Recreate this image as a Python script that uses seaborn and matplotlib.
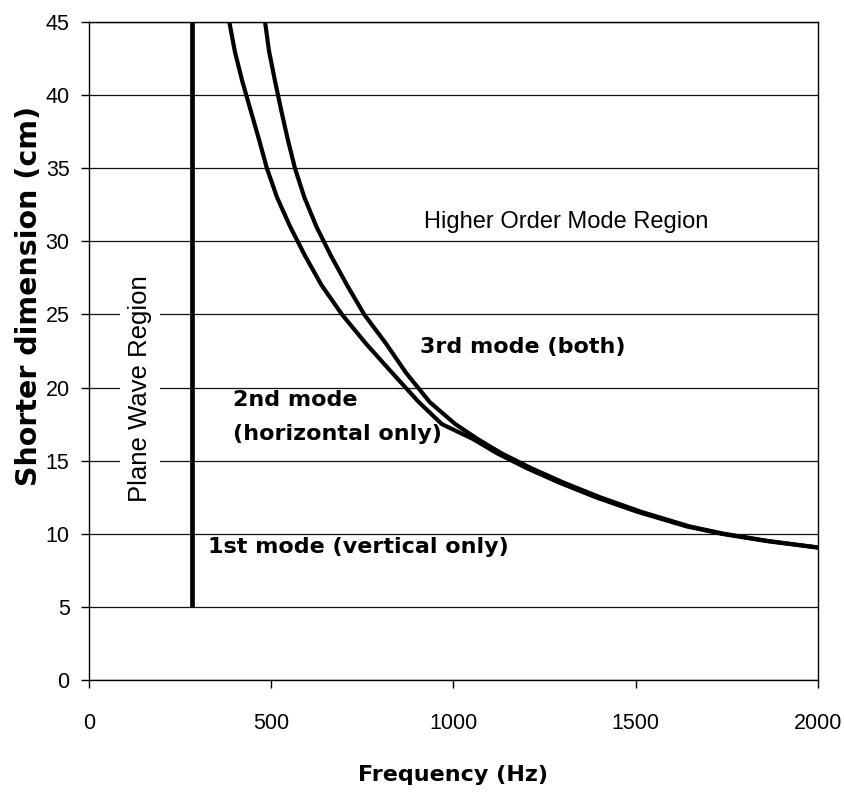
import matplotlib
matplotlib.use("Agg")
import matplotlib.pyplot as plt
import numpy as np
import pandas as pd
import seaborn as sns

# ---- data ----
mode2_dim = [45, 43, 41, 39, 37, 35, 33, 31, 29, 27, 25, 23, 21, 19, 17.5, 16.5,
             15.5, 14.5, 13.5, 12.5, 11.5, 10.5, 10, 9.5, 9.06]
mode2_freq = [385, 400, 420, 443, 466, 488, 516, 552, 593, 638, 694, 760, 832, 905, 968, 1052,
              1120, 1200, 1290, 1390, 1505, 1640, 1735, 1860, 2000]

mode3_dim = [45, 43, 41, 39, 37, 35, 33, 31, 29, 27, 25, 23, 21, 19, 17.5, 16.5,
             15.5, 14.5, 13.5, 12.5, 11.5, 10.5, 10, 9.5, 9.06]
mode3_freq = [483, 494, 510, 527, 545, 565, 591, 624, 664, 708, 755, 815, 870, 935, 1005, 1065,
              1132, 1212, 1302, 1402, 1515, 1648, 1742, 1865, 2000]

plane_freq = [283, 283]
plane_dim = [5, 45]

x_ticks = [0, 500, 1000, 1500, 2000]
y_ticks = [0, 5, 10, 15, 20, 25, 30, 35, 40, 45]

sns.set_theme(style="white")
plt.rcParams["font.family"] = ["DejaVu Sans"]
plt.rcParams["text.color"] = "black"
plt.rcParams["axes.labelcolor"] = "black"

W, H = 845, 793
fig = plt.figure(figsize=(W / 100, H / 100), dpi=100)
ax = fig.add_axes([89 / W, 1 - 680 / H, (818 - 89) / W, (680 - 22) / H])

df = pd.concat([
    pd.DataFrame({"freq": mode2_freq, "dim": mode2_dim, "mode": "2nd"}),
    pd.DataFrame({"freq": mode3_freq, "dim": mode3_dim, "mode": "3rd"}),
])
sns.lineplot(data=df, x="freq", y="dim", hue="mode", units="mode",
             palette={"2nd": "black", "3rd": "black"}, estimator=None,
             sort=False, lw=3.0, legend=False, ax=ax, zorder=3)
sns.lineplot(x=plane_freq, y=plane_dim, estimator=None, sort=False,
             color="black", lw=3.4, ax=ax, zorder=3)
for ln in ax.lines:
    ln.set_solid_joinstyle("round")
    ln.set_solid_capstyle("butt")

ax.set_xlim(0, 2000)
ax.set_ylim(0, 45)
ax.set_xticks(x_ticks)
ax.set_yticks(y_ticks)
ax.yaxis.grid(True, color="#111111", lw=0.9)
ax.xaxis.grid(False)
ax.set_axisbelow(True)
for s in ax.spines.values():
    s.set_color("black")
    s.set_linewidth(1.0)

ax.tick_params(axis="both", direction="out", length=6, width=1, color="black",
               left=True, bottom=True, labelsize=15.5, labelcolor="black")
ax.tick_params(axis="x", pad=18)
ax.tick_params(axis="y", pad=8)
for lab in ax.get_xticklabels() + ax.get_yticklabels():
    lab.set_fontfamily("Liberation Sans")

ax.set_xlabel("Frequency (Hz)", fontsize=16, fontweight="bold", labelpad=22)
ax.set_ylabel("Shorter dimension (cm)", fontsize=20.5, fontweight="bold")
ax.yaxis.set_label_coords((43 - 89) / 729, (680 - 296) / 658)

box = dict(boxstyle="square,pad=0.3", fc="white", ec="none")
ax.text(1309, 31.3, "Higher Order Mode Region", fontsize=17, family="Liberation Sans",
        ha="center", va="center", bbox=box, zorder=2)
ax.text(140, 19.9, "Plane Wave Region", fontsize=18.5, family="Liberation Sans",
        rotation=90, ha="center", va="center", bbox=box, zorder=2)
ax.text(908, 22.8, "3rd mode (both)", fontsize=16, fontweight="bold",
        ha="left", va="center", zorder=4)
ax.text(395, 18.0, "2nd mode\n(horizontal only)", fontsize=16, fontweight="bold",
        ha="left", va="center", linespacing=1.85, multialignment="left", zorder=4)
ax.text(326, 9.1, "1st mode (vertical only)", fontsize=16, fontweight="bold",
        ha="left", va="center", zorder=4)

fig.savefig("out.png", dpi=100)
